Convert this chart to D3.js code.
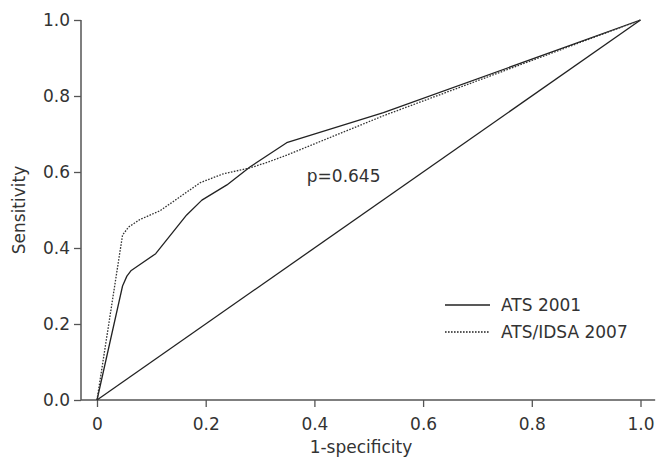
<!DOCTYPE html>
<html>
<head>
<meta charset="utf-8">
<script src="https://cdn.jsdelivr.net/npm/d3@7"></script>
<style>
  body { margin: 0; background: #fff; }
  text { font-family: "DejaVu Sans", sans-serif; font-size: 17px; fill: #333; }
</style>
</head>
<body>
<div id="roc_area"></div>
<script>
// ROC curves, values
var ats2001 = [[0,0],[0.047,0.30],[0.055,0.326],[0.063,0.341],[0.108,0.385],[0.165,0.487],
               [0.193,0.526],[0.239,0.566],[0.282,0.614],[0.349,0.677],[0.527,0.756],[1,1]];
var atsIdsa2007 = [[0,0],[0.047,0.434],[0.058,0.455],[0.079,0.475],[0.116,0.498],[0.19,0.572],
                   [0.232,0.595],[0.282,0.611],[0.31,0.624],[0.345,0.642],[0.527,0.748],[1,1]];
var reference = [[0,0],[1,1]];
var xTicks = [0, 0.2, 0.4, 0.6, 0.8, 1.0];
var xTickLabels = ["0", "0.2", "0.4", "0.6", "0.8", "1.0"];
var yTicks = [0, 0.2, 0.4, 0.6, 0.8, 1.0];
var legendNames = ["ATS 2001", "ATS/IDSA 2007"];
var pLabel = "p=0.645";

(function(){
  var width = 657, height = 457;

  var x = d3.scaleLinear().domain([0, 1]).range([97, 640.5]);
  var y = d3.scaleLinear().domain([0, 1]).range([400, 20]);

  var svg = d3.select("#roc_area")
      .append("svg")
      .attr("width", width)
      .attr("height", height);

  // X axis
  var xAxis = svg.append("g")
      .attr("transform", "translate(0," + y(0) + ")")
      .call(d3.axisBottom(x).tickValues(xTicks)
            .tickFormat(function(d, i) { return xTickLabels[i]; })
            .tickSize(7).tickPadding(11));
  xAxis.select(".domain").remove();
  xAxis.append("line")
      .attr("x1", 81).attr("x2", x(1.027))
      .attr("stroke", "#555").attr("stroke-width", 1.5);

  // Y axis
  var yAxis = svg.append("g")
      .attr("transform", "translate(81,0)")
      .call(d3.axisLeft(y).tickValues(yTicks).tickFormat(d3.format(".1f"))
            .tickSize(7).tickPadding(4));
  yAxis.select(".domain").attr("stroke", "#555").attr("stroke-width", 1.5)
      .attr("d", "M0," + y(1) + "V" + y(0));

  svg.selectAll(".tick line").attr("stroke", "#555").attr("stroke-width", 1.3);
  svg.selectAll(".tick text").style("font-size", "17px").attr("fill", "#333");

  // axis titles
  svg.append("text")
      .attr("x", 361).attr("y", 453)
      .attr("text-anchor", "middle")
      .text("1-specificity");
  svg.append("text")
      .attr("transform", "translate(25,210) rotate(-90)")
      .attr("text-anchor", "middle")
      .text("Sensitivity");

  // lines
  var line = d3.line()
      .x(function(d) { return x(d[0]); })
      .y(function(d) { return y(d[1]); });

  svg.append("path").attr("d", line(reference))
      .attr("fill", "none").attr("stroke", "#222").attr("stroke-width", 1.3);
  svg.append("path").attr("d", line(ats2001))
      .attr("fill", "none").attr("stroke", "#222").attr("stroke-width", 1.3)
      .attr("stroke-linejoin", "round");
  svg.append("path").attr("d", line(atsIdsa2007))
      .attr("fill", "none").attr("stroke", "#333").attr("stroke-width", 1.3)
      .attr("stroke-dasharray", "1.6,1.4");

  svg.append("text")
      .attr("x", x(0.386)).attr("y", y(0.574))
      .text(pLabel);

  // legend
  var legend = svg.selectAll(".legend")
      .data(legendNames)
    .enter().append("g")
      .attr("transform", function(d, i) { return "translate(445," + (305 + i * 27) + ")"; });
  legend.append("line")
      .attr("x1", 0).attr("x2", 45)
      .attr("stroke", "#222").attr("stroke-width", 1.3)
      .attr("stroke-dasharray", function(d, i) { return i ? "1.6,1.4" : null; });
  legend.append("text")
      .attr("x", 56).attr("y", 0).attr("dy", "0.36em")
      .text(function(d) { return d; });
})();
</script>
</body>
</html>
